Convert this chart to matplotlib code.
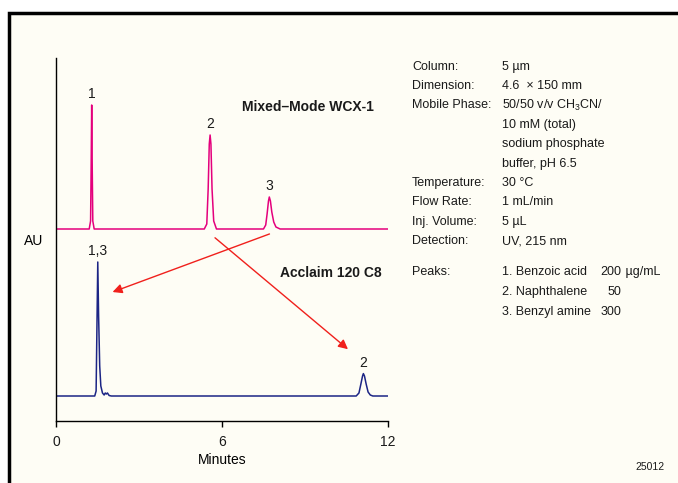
import matplotlib.pyplot as plt
from matplotlib.patches import Rectangle

plt.rcParams['font.family'] = ['Liberation Sans', 'DejaVu Sans']
plt.rcParams['mathtext.fontset'] = 'custom'
plt.rcParams['mathtext.rm'] = 'Liberation Sans'
plt.rcParams['text.color'] = '#1a1a1a'
plt.rcParams['xtick.labelcolor'] = '#1a1a1a'

# traces: (minutes, signal above baseline)
wcx_time = [0.0, 1.20, 1.25, 1.27, 1.29, 1.31, 1.33, 1.38,
            5.36, 5.45, 5.50, 5.54, 5.57, 5.60, 5.64, 5.70, 5.80,
            7.50, 7.58, 7.63, 7.68, 7.71, 7.75, 7.80, 7.87, 7.95, 8.10, 12.0]
wcx_signal = [0, 0, 8, 60, 124, 60, 8, 0,
              0, 5, 40, 85, 94, 85, 40, 8, 0,
              0, 4, 15, 28, 32, 28, 17, 7, 2, 0, 0]
wcx_base = 192

c8_time = [0.0, 1.40, 1.45, 1.48, 1.51, 1.54, 1.58, 1.62, 1.68, 1.74, 1.78, 1.82,
           1.86, 1.92, 2.00, 10.85, 10.95, 11.02, 11.08, 11.11, 11.15, 11.21,
           11.28, 11.36, 11.45, 12.0]
c8_signal = [0, 0, 5, 70, 134, 80, 30, 10, 3, 1, 3, 2,
             3, 0.5, 0, 0, 3, 12, 20, 22.4, 20, 12,
             4, 1, 0, 0]
c8_base = 25

wcx_peaks = [(1.29, 124, '1'), (5.57, 94, '2'), (7.71, 32, '3')]
c8_peaks = [(1.51, 134, '1,3'), (11.11, 22.4, '2')]

info_labels = ['Column:', 'Dimension:', 'Mobile Phase:', '', '', '',
               'Temperature:', 'Flow Rate:', 'Inj. Volume:', 'Detection:']
info_values = ['5 µm', '4.6  × 150 mm', r'50/50 v/v CH$_3$CN/', '10 mM (total)',
               'sodium phosphate', 'buffer, pH 6.5', '30 °C', '1 mL/min',
               '5 µL', 'UV, 215 nm']
peak_names = ['1. Benzoic acid', '2. Naphthalene', '3. Benzyl amine']
peak_conc = ['200', '50', '300']

pink = '#E4007C'
navy = '#1C2585'
red = '#F0201C'

fig = plt.figure(figsize=(6.78, 4.83), dpi=100)
fig.patch.set_facecolor('white')
W, H = 678, 483


def px(x, y):
    return x / W, 1 - y / H


# frame
fig.patches.append(Rectangle((9 / W, -0.1), 1.2, 0.1 + (H - 13) / H,
                             transform=fig.transFigure, facecolor='#FEFDF5',
                             edgecolor='black', linewidth=2.5, zorder=-5))

ax = fig.add_axes([56 / W, 62 / H, 332 / W, 363 / H])
ax.set_zorder(2)
ax.set_facecolor('none')
ax.plot(wcx_time, [s + wcx_base for s in wcx_signal], color=pink, lw=1.1)
ax.plot(c8_time, [s + c8_base for s in c8_signal], color=navy, lw=1.1)
ax.set_xlim(0, 12)
ax.set_ylim(0, 363)

for t, h, lab in wcx_peaks:
    ax.text(t, wcx_base + h + 4, lab, ha='center', va='bottom', fontsize=10)
for t, h, lab in c8_peaks:
    ax.text(t, c8_base + h + 4, lab, ha='center', va='bottom', fontsize=10)

ax.text(6.72, 314, 'Mixed–Mode WCX-1', fontsize=10, fontweight='bold', va='center')
ax.text(8.1, 148, 'Acclaim 120 C8', fontsize=10, fontweight='bold', va='center')

arrow = dict(arrowstyle='-|>', color=red, lw=1.0, mutation_scale=14)
ax.annotate('', xy=(1.95, 128), xytext=(7.81, 188), arrowprops=arrow)
ax.annotate('', xy=(10.63, 70), xytext=(5.67, 185), arrowprops=arrow)

for s in ['top', 'right']:
    ax.spines[s].set_visible(False)
ax.spines['left'].set_linewidth(1.0)
ax.spines['bottom'].set_linewidth(1.0)
ax.set_xticks([0, 6, 12])
ax.set_yticks([])
ax.tick_params(axis='x', direction='out', length=4, width=1, pad=6, labelsize=10)
ax.set_xlabel('Minutes', fontsize=10)
ax.xaxis.set_label_coords(0.5, (421 - 460) / 363)
ax.xaxis.label.set_va('center')
ax.set_ylabel('AU', rotation=0, fontsize=10)
ax.yaxis.set_label_coords((34 - 56) / 332, (421 - 241) / 363)
ax.yaxis.label.set_va('center')
ax.yaxis.label.set_ha('center')

# conditions block
fs = 9
for i, (lab, val) in enumerate(zip(info_labels, info_values)):
    y = 66.7 + i * 19.37
    if lab:
        fig.text(*px(412, y), lab, fontsize=fs, va='center')
    fig.text(*px(502, y), val, fontsize=fs, va='center')

fig.text(*px(412, 271.7), 'Peaks:', fontsize=fs, va='center')
for i, (name, conc) in enumerate(zip(peak_names, peak_conc)):
    y = 271.7 + i * 20
    fig.text(*px(502, y), name, fontsize=fs, va='center')
    fig.text(*px(621, y), conc, fontsize=fs, va='center', ha='right')
fig.text(*px(622, 271.7), ' µg/mL', fontsize=fs, va='center')

fig.text(*px(650, 467), '25012', fontsize=7.5, va='center', ha='center')

fig.savefig('out.png', dpi=100)
